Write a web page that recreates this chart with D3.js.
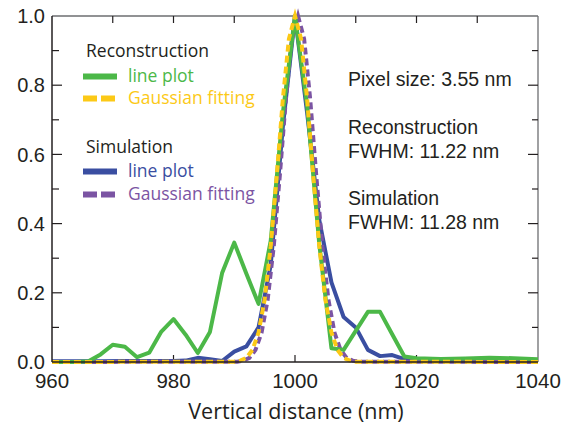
<!DOCTYPE html>
<html>
<head>
<meta charset="utf-8">
<script src="https://cdn.jsdelivr.net/npm/d3@7"></script>
<style>
  body { margin: 0; background: #fff; }
  svg { display: block; }
  .tick-label { font-family: "Liberation Sans", Arial, sans-serif; font-size: 20px; fill: #231f20; }
  .note { font-family: "Liberation Sans", Arial, sans-serif; font-size: 19.5px; fill: #231f20; }
  .leg { font-family: "Open Sans", "Noto Sans", sans-serif; font-size: 17.5px; }
</style>
</head>
<body>
<svg id="chart" width="561" height="424"></svg>
<script>
// reconstruction line plot (green)
var reconX = [960, 962, 964, 966, 968, 970, 972, 974, 976, 978, 980, 982, 984, 986, 988, 990, 992, 994, 996, 998, 1000,
              1002, 1004, 1006, 1008, 1010, 1012, 1014, 1016, 1018, 1020, 1024, 1028, 1032, 1036, 1040];
var reconY = [0, 0, 0, 0.002, 0.022, 0.05, 0.044, 0.014, 0.027, 0.088, 0.124, 0.079, 0.026, 0.087, 0.257, 0.345, 0.255, 0.168, 0.35, 0.72, 1.0,
              0.74, 0.34, 0.04, 0.035, 0.09, 0.145, 0.145, 0.08, 0.016, 0.011, 0.009, 0.01, 0.012, 0.011, 0.008];

// simulation line plot (blue)
var simX = [960, 964, 968, 972, 976, 980, 982, 984, 986, 988, 990, 992, 994, 996, 998, 1000,
            1002, 1004, 1006, 1008, 1010, 1012, 1014, 1016, 1018, 1020, 1030, 1040];
var simY = [0.002, 0.002, 0.002, 0.003, 0.003, 0.003, 0.004, 0.012, 0.008, 0.003, 0.03, 0.045, 0.10, 0.28, 0.68, 1.0,
            0.72, 0.41, 0.23, 0.13, 0.10, 0.035, 0.017, 0.02, 0.008, 0.003, 0.002, 0.002];

// reconstruction Gaussian fitting (yellow)
var reconFitX = [960, 990, 991, 992, 993, 994, 995, 996, 997, 998, 999, 1000, 1001, 1002, 1003, 1004, 1005, 1006, 1007, 1008, 1009, 1010, 1040];
var reconFitY = [0, 0.001, 0.004, 0.012, 0.035, 0.085, 0.18, 0.334, 0.539, 0.76, 0.934, 1.0, 0.934, 0.76, 0.539, 0.334, 0.18, 0.085, 0.035, 0.012, 0.004, 0.001, 0];

// simulation Gaussian fitting (purple)
var simFitX = [960, 990.5, 991.5, 992.5, 993.5, 994.5, 995.5, 996.5, 997.5, 998.5, 999.5, 1000.5, 1001.5, 1002.5, 1003.5, 1004.5, 1005.5, 1006.5, 1007.5, 1008.5, 1009.5, 1010.5, 1040];
var simFitY = [0, 0.001, 0.004, 0.012, 0.035, 0.085, 0.18, 0.334, 0.539, 0.76, 0.934, 1.0, 0.934, 0.76, 0.539, 0.334, 0.18, 0.085, 0.035, 0.012, 0.004, 0.001, 0];

var xTicks = [960, 980, 1000, 1020, 1040];
var yTicks = [0.0, 0.2, 0.4, 0.6, 0.8, 1.0];

var notes = ["Pixel size: 3.55 nm", "Reconstruction", "FWHM: 11.22 nm", "Simulation", "FWHM: 11.28 nm"];

var green = "#4cb848", yellow = "#fcc916", blue = "#3a4ea1", purple = "#7b54a3";

var margin = {top: 16, right: 23, bottom: 62, left: 52},
    width = 561 - margin.left - margin.right,
    height = 424 - margin.top - margin.bottom;

var svg = d3.select("#chart");
var g = svg.append("g")
    .attr("transform", "translate(" + margin.left + "," + margin.top + ")");

var x = d3.scaleLinear().domain([960, 1040]).range([0, width]);
var y = d3.scaleLinear().domain([0, 1]).range([height, 0]);

// frame: top & right grey, left & bottom dark
g.append("line").attr("x1", 0).attr("x2", width).attr("y1", 0).attr("y2", 0)
    .attr("stroke", "#6d6e71").attr("stroke-width", 1.3);
g.append("line").attr("x1", width).attr("x2", width).attr("y1", 0).attr("y2", height)
    .attr("stroke", "#6d6e71").attr("stroke-width", 1.3);

// top minor ticks every 10
g.append("g").selectAll("line")
    .data(d3.range(970, 1040, 10))
  .enter().append("line")
    .attr("x1", function(d) { return x(d); }).attr("x2", function(d) { return x(d); })
    .attr("y1", 0).attr("y2", 7)
    .attr("stroke", "#231f20").attr("stroke-width", 1.2);

// right ticks every 0.1
g.append("g").selectAll("line")
    .data(d3.range(1, 10))
  .enter().append("line")
    .attr("x1", width).attr("x2", function(d) { return width - (d % 2 === 0 ? 10 : 6); })
    .attr("y1", function(d) { return y(d / 10); }).attr("y2", function(d) { return y(d / 10); })
    .attr("stroke", "#231f20").attr("stroke-width", 1.2);

// left axis
var yAxis = d3.axisLeft(y).tickValues(d3.range(0, 11).map(function(d) { return d / 10; }))
    .tickSize(0).tickFormat("");
g.append("g").call(yAxis).select(".domain").remove();
g.append("g").selectAll("line")
    .data(d3.range(1, 10))
  .enter().append("line")
    .attr("x1", 0).attr("x2", function(d) { return d % 2 === 0 ? 10 : 7; })
    .attr("y1", function(d) { return y(d / 10); }).attr("y2", function(d) { return y(d / 10); })
    .attr("stroke", "#231f20").attr("stroke-width", 1.2);
g.append("g").selectAll("text")
    .data(yTicks)
  .enter().append("text")
    .attr("class", "tick-label")
    .attr("x", -7)
    .attr("y", function(d) { return y(d); })
    .attr("dy", "0.36em")
    .attr("text-anchor", "end")
    .text(function(d) { return d3.format(".1f")(d); });

// bottom axis
var xAxis = d3.axisBottom(x).tickValues(xTicks).tickSize(0).tickFormat("");
g.append("g").attr("transform", "translate(0," + height + ")").call(xAxis)
    .select(".domain").remove();
g.append("g").selectAll("line")
    .data(xTicks.slice(1, -1))
  .enter().append("line")
    .attr("x1", function(d) { return x(d); }).attr("x2", function(d) { return x(d); })
    .attr("y1", height).attr("y2", height - 7)
    .attr("stroke", "#231f20").attr("stroke-width", 1.2);
g.append("g").selectAll("text")
    .data(xTicks)
  .enter().append("text")
    .attr("class", "tick-label")
    .attr("x", function(d) { return x(d); })
    .attr("y", height + 26)
    .attr("text-anchor", "middle")
    .style("font-size", "20.5px")
    .text(function(d) { return d; });

g.append("text")
    .attr("x", x(1000) + 1)
    .attr("y", height + 57)
    .attr("text-anchor", "middle")
    .style("font-family", "'Open Sans', 'Noto Sans', sans-serif")
    .style("font-size", "21.5px")
    .style("fill", "#231f20")
    .text("Vertical distance (nm)");

// curves
var line = d3.line()
    .x(function(d) { return x(d[0]); })
    .y(function(d) { return y(d[1]); });

function pairs(xs, ys) { return xs.map(function(v, i) { return [v, ys[i]]; }); }

var plot = g.append("g");
plot.append("path").datum(pairs(simX, simY))
    .attr("d", line).attr("fill", "none").attr("stroke", blue).attr("stroke-width", 4)
    .attr("stroke-linejoin", "round");
plot.append("path").datum(pairs(simFitX, simFitY))
    .attr("d", line).attr("fill", "none").attr("stroke", purple).attr("stroke-width", 4)
    .attr("stroke-dasharray", "7,4").attr("stroke-dashoffset", 5);
plot.append("path").datum(pairs(reconX, reconY))
    .attr("d", line).attr("fill", "none").attr("stroke", green).attr("stroke-width", 4)
    .attr("stroke-linejoin", "round");
plot.append("path").datum(pairs(reconFitX, reconFitY))
    .attr("d", line).attr("fill", "none").attr("stroke", yellow).attr("stroke-width", 4)
    .attr("stroke-dasharray", "7,4");

// left and bottom axis lines on top
g.append("line").attr("x1", 0).attr("x2", 0).attr("y1", 0).attr("y2", height)
    .attr("stroke", "#231f20").attr("stroke-width", 1.5);
g.append("line").attr("x1", 0).attr("x2", width).attr("y1", height).attr("y2", height)
    .attr("stroke", "#231f20").attr("stroke-width", 1.5);

// legend
var legend = [
  {head: "Reconstruction", y: 57},
  {label: "line plot", color: green, dash: null, y: 82},
  {label: "Gaussian fitting", color: yellow, dash: "14,4", y: 104},
  {head: "Simulation", y: 153},
  {label: "line plot", color: blue, dash: null, y: 177},
  {label: "Gaussian fitting", color: purple, dash: "14,4", y: 200}
];
var lg = svg.append("g");
legend.forEach(function(d) {
  if (d.head) {
    lg.append("text").attr("class", "leg").attr("x", 86).attr("y", d.y)
        .style("fill", "#231f20").text(d.head);
  } else {
    lg.append("line").attr("x1", 83).attr("x2", 117)
        .attr("y1", d.y - 5.5).attr("y2", d.y - 5.5)
        .attr("stroke", d.color).attr("stroke-width", 6)
        .attr("stroke-dasharray", d.dash);
    lg.append("text").attr("class", "leg").attr("x", 128).attr("y", d.y)
        .style("fill", d.color).text(d.label);
  }
});

// annotations
var noteY = [86, 134, 158, 205, 229];
svg.append("g").selectAll("text")
    .data(notes)
  .enter().append("text")
    .attr("class", "note")
    .attr("x", 348)
    .attr("y", function(d, i) { return noteY[i]; })
    .text(function(d) { return d; });
</script>
</body>
</html>
